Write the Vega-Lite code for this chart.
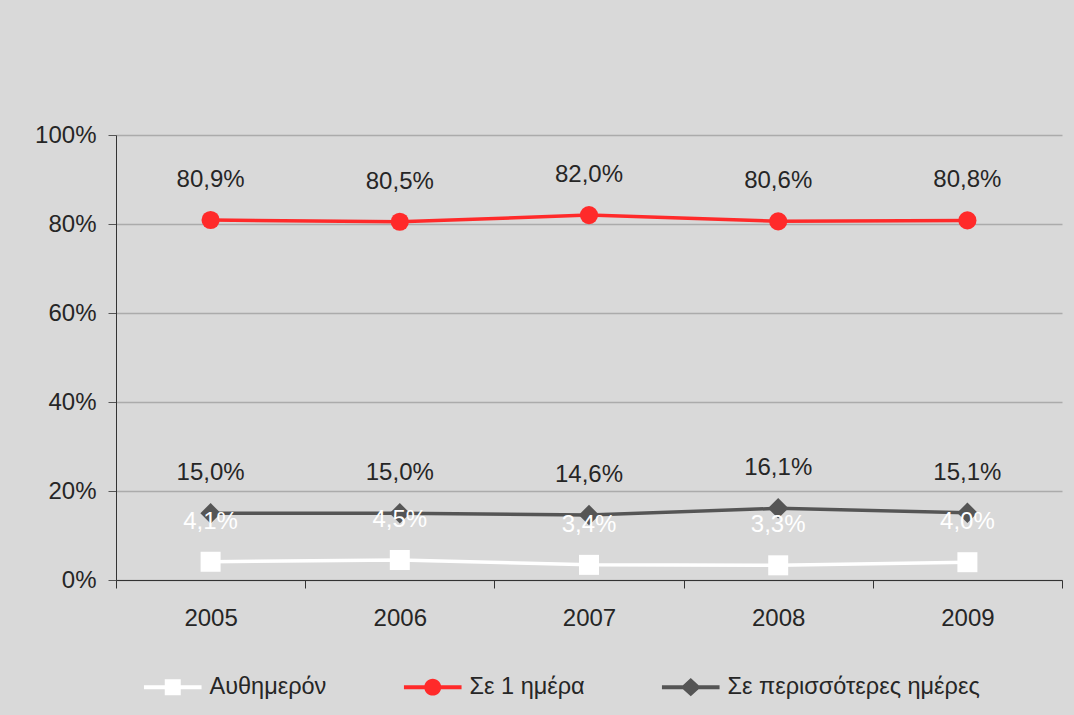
{
  "$schema": "https://vega.github.io/schema/vega-lite/v6.json",
  "autosize": {"type": "none"},
  "width": 946,
  "height": 445,
  "padding": {"left": 116, "top": 135, "right": 12, "bottom": 135},
  "background": "#d9d9d9",
  "config": {
    "view": {"stroke": null},
    "font": "Liberation Sans",
    "locale": {"number": {"decimal": ",", "thousands": ".", "grouping": [3], "currency": ["", " €"]}}
  },
  "resolve": {"legend": {"color": "independent"}},
  "data": {
    "values": [
      {"year": "2005", "series": "Αυθημερόν", "value": 0.041},
      {"year": "2006", "series": "Αυθημερόν", "value": 0.045},
      {"year": "2007", "series": "Αυθημερόν", "value": 0.034},
      {"year": "2008", "series": "Αυθημερόν", "value": 0.033},
      {"year": "2009", "series": "Αυθημερόν", "value": 0.040},
      {"year": "2005", "series": "Σε 1 ημέρα", "value": 0.809},
      {"year": "2006", "series": "Σε 1 ημέρα", "value": 0.805},
      {"year": "2007", "series": "Σε 1 ημέρα", "value": 0.820},
      {"year": "2008", "series": "Σε 1 ημέρα", "value": 0.806},
      {"year": "2009", "series": "Σε 1 ημέρα", "value": 0.808},
      {"year": "2005", "series": "Σε περισσότερες ημέρες", "value": 0.150},
      {"year": "2006", "series": "Σε περισσότερες ημέρες", "value": 0.150},
      {"year": "2007", "series": "Σε περισσότερες ημέρες", "value": 0.146},
      {"year": "2008", "series": "Σε περισσότερες ημέρες", "value": 0.161},
      {"year": "2009", "series": "Σε περισσότερες ημέρες", "value": 0.151}
    ]
  },
  "encoding": {
    "x": {
      "field": "year", "type": "nominal",
      "scale": {"type": "band", "paddingInner": 0, "paddingOuter": 0},
      "axis": {
        "title": null, "labelAngle": 0, "tickBand": "extent", "grid": false,
        "domainColor": "#333333", "tickColor": "#333333", "tickSize": 8,
        "labelFontSize": 24, "labelColor": "#262626", "labelPadding": 18,
        "labelFont": "Liberation Sans"
      }
    },
    "y": {
      "field": "value", "type": "quantitative",
      "scale": {"domain": [0, 1], "nice": false},
      "axis": {
        "title": null, "values": [0, 0.2, 0.4, 0.6, 0.8, 1], "format": ".0%",
        "grid": true, "gridColor": "#ababab", "gridWidth": 1.3,
        "domainColor": "#333333", "tickColor": "#555555", "tickSize": 8,
        "labelFontSize": 24, "labelColor": "#262626", "labelPadding": 12,
        "labelFont": "Liberation Sans"
      }
    }
  },
  "layer": [
    {
      "mark": {"type": "line", "strokeWidth": 3.5},
      "encoding": {
        "color": {
          "field": "series", "type": "nominal",
          "scale": {"domain": ["Αυθημερόν", "Σε 1 ημέρα", "Σε περισσότερες ημέρες"], "range": ["#ffffff", "#ff2a2a", "#555555"]},
          "legend": null
        }
      }
    },
    {
      "transform": [{"filter": "datum.series === 'Αυθημερόν'"}],
      "mark": {"type": "point", "shape": "square", "filled": true, "size": 400, "opacity": 1},
      "encoding": {"color": {"field": "series", "type": "nominal", "legend": null}}
    },
    {
      "transform": [{"filter": "datum.series === 'Σε 1 ημέρα'"}],
      "mark": {"type": "point", "shape": "circle", "filled": true, "size": 330, "opacity": 1},
      "encoding": {"color": {"field": "series", "type": "nominal", "legend": null}}
    },
    {
      "transform": [{"filter": "datum.series === 'Σε περισσότερες ημέρες'"}],
      "mark": {"type": "point", "shape": "diamond", "filled": true, "size": 420, "opacity": 1},
      "encoding": {"color": {"field": "series", "type": "nominal", "legend": null}}
    },
    {
      "mark": {"type": "text", "dy": -40, "baseline": "middle", "align": "center", "fontSize": 24, "font": "Liberation Sans"},
      "encoding": {
        "text": {"field": "value", "type": "quantitative", "format": ".1%"},
        "color": {"condition": {"test": "datum.series === 'Αυθημερόν'", "value": "#ffffff"}, "value": "#262626"}
      }
    },
    {
      "mark": {"type": "point", "filled": true, "opacity": 0},
      "encoding": {
        "color": {
          "field": "series", "type": "nominal",
          "legend": {
            "title": null, "orient": "none", "direction": "horizontal",
            "legendX": 45, "legendY": 540, "padding": 0,
            "symbolSize": 256, "symbolStrokeWidth": 0, "symbolOpacity": 1,
            "symbolOffset": 0, "labelOffset": 25, "columnPadding": 76,
            "labelFontSize": 23.5, "labelColor": "#262626", "labelFont": "Liberation Sans",
            "labelLimit": 400,
            "encode": {
              "symbols": {
                "update": {
                  "opacity": {"value": 1},
                  "shape": {"signal": "datum.value === 'Αυθημερόν' ? 'M-3.6,-0.25 L3.6,-0.25 L3.6,0.25 L-3.6,0.25 Z M-1,-1 L1,-1 L1,1 L-1,1 Z' : datum.value === 'Σε 1 ημέρα' ? 'M-3.6,-0.25 L3.6,-0.25 L3.6,0.25 L-3.6,0.25 Z M-1.06,0 A1.06,1.06 0 1,1 1.06,0 A1.06,1.06 0 1,1 -1.06,0 Z' : 'M-3.6,-0.25 L3.6,-0.25 L3.6,0.25 L-3.6,0.25 Z M-1.25,0 L0,-1.15 L1.25,0 L0,1.15 Z'"}
                }
              }
            }
          }
        }
      }
    }
  ]
}
